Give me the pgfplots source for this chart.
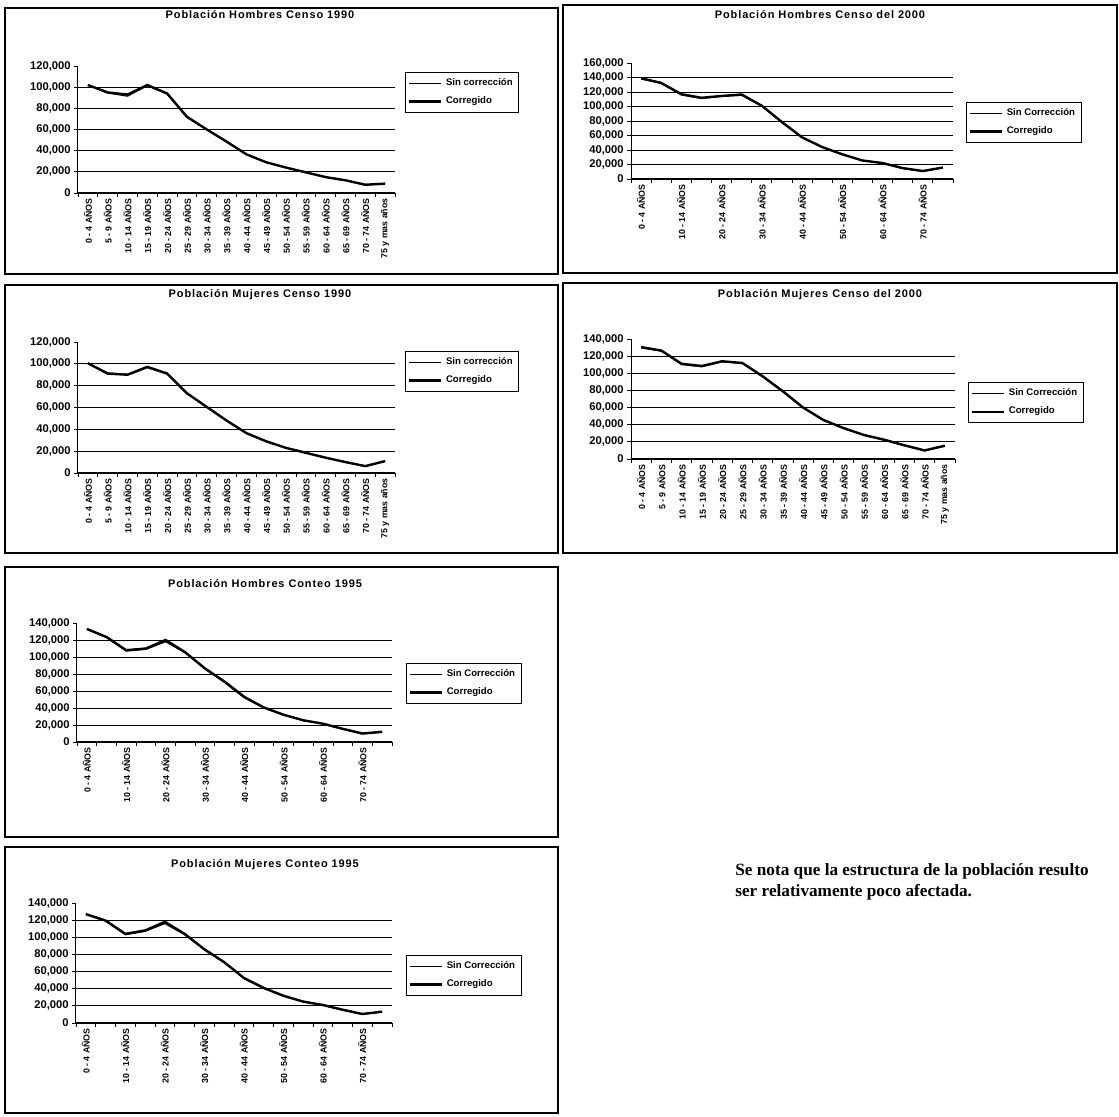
\documentclass[border=0pt]{standalone}
\usepackage{fontspec}
\setmainfont{Liberation Sans}
\newfontfamily\notefont{Liberation Serif}
\newfontfamily\titlefont[LetterSpace=8]{Liberation Sans}
\usepackage{pgfplots}
\usepackage{pgfplotstable}
\pgfplotsset{compat=1.18}

% x = age group index, s = Sin correccion, c = Corregido
\pgfplotstableread{
x s c
0 102000 102000
1 94500 95000
2 91500 93000
3 101500 102000
4 93500 94000
5 71500 72000
6 60000 60000
7 49000 48500
8 36500 36500
9 29000 29000
10 24000 24000
11 19500 19500
12 15000 15000
13 12000 12000
14 7500 7800
15 8700 8800
}\hombresnoventa

\pgfplotstableread{
x s c
0 138000 139000
1 132000 132500
2 116000 117000
3 111000 112000
4 114000 114500
5 115500 116500
6 100500 101000
7 78000 78500
8 57000 57500
9 44000 44000
10 34000 34000
11 25500 25500
12 21500 22000
13 14500 15000
14 10500 11000
15 15500 15800
}\hombresdosmil

\pgfplotstableread{
x s c
0 100800 100500
1 91600 91000
2 90400 90000
3 97700 97000
4 91600 91000
5 72700 73000
6 60500 60500
7 48200 48000
8 36600 36500
9 29000 29000
10 22900 23000
11 18300 18500
12 14000 14000
13 10000 10000
14 6100 6300
15 10700 10900
}\mujeresnoventa

\pgfplotstableread{
x s c
0 129700 130500
1 125800 126500
2 110300 111000
3 107600 108500
4 113400 114000
5 111500 112000
6 95900 96500
7 78400 79000
8 59800 60000
9 45400 45500
10 35700 36000
11 28000 28000
12 22100 22500
13 15500 16000
14 9700 10000
15 15100 15500
}\mujeresdosmil

\pgfplotstableread{
x s c
0 133000 133000
1 122800 123500
2 107000 108000
3 109000 110000
4 118000 120000
5 104800 105500
6 86000 86500
7 70000 71000
8 52000 53000
9 40000 40500
10 32000 32000
11 25200 25500
12 21200 21500
13 15000 15500
14 9500 10000
15 11500 12000
}\hombresconteo

\pgfplotstableread{
x s c
0 126700 127000
1 118800 119500
2 103000 104000
3 107000 108000
4 116000 118000
5 103000 104000
6 85500 86000
7 70600 71000
8 52000 52500
9 40400 41000
10 31400 31800
11 24700 25000
12 20800 21000
13 15000 15500
14 10200 10500
15 12900 13200
}\mujeresconteo

\newcommand\yfont{\fontsize{5.6}{6}\selectfont\bfseries}
\newcommand\xfont{\fontsize{4.4}{5}\selectfont\bfseries}
\newcommand\lfont{\fontsize{4.8}{5.4}\selectfont\bfseries}
\newcommand\tfont{\titlefont\fontsize{5.5}{6}\selectfont\bfseries}

\pgfplotsset{
  panel/.style={
    scale only axis, anchor=south west,
    xmin=-0.5, xmax=15.5, ymin=0,
    axis x line*=bottom, axis y line*=left,
    axis line style={black, line width=0.5pt},
    ymajorgrids, major grid style={black, line width=0.45pt},
    tick align=outside, major tick length=0pt, minor tick length=2pt,
    minor xtick={-0.5,0.5,...,15.5},
    tick style={black, line width=0.4pt},
    scaled y ticks=false,
    /pgf/number format/fixed,
    /pgf/number format/1000 sep={,},
    /pgf/number format/assume math mode=true,
    yticklabel style={font=\yfont, inner sep=3.5pt},
    xticklabel style={rotate=90, anchor=east, font=\xfont, inner sep=2.5pt},
    extra y tick style={grid=none},
    legend style={draw=black, line width=0.5pt, font=\lfont, anchor=north west,
      inner sep=1pt, row sep=0pt, cells={anchor=west}},
    legend image code/.code={\draw[##1] (0pt,0pt) -- (16pt,0pt);},
  },
  allcats/.style={xtick={0,...,15},
    xticklabels={0 - 4 AÑOS, 5 - 9 AÑOS, 10 - 14 AÑOS, 15 - 19 AÑOS, 20 - 24 AÑOS,
      25 - 29 AÑOS, 30 - 34 AÑOS, 35 - 39 AÑOS, 40 - 44 AÑOS, 45 - 49 AÑOS,
      50 - 54 AÑOS, 55 - 59 AÑOS, 60 - 64 AÑOS, 65 - 69 AÑOS, 70 - 74 AÑOS,
      75 y mas años}},
  halfcats/.style={xtick={0,2,...,14},
    xticklabels={0 - 4 AÑOS, 10 - 14 AÑOS, 20 - 24 AÑOS, 30 - 34 AÑOS,
      40 - 44 AÑOS, 50 - 54 AÑOS, 60 - 64 AÑOS, 70 - 74 AÑOS}},
  to120/.style={ymax=120000, ytick={0,20000,...,100000}, extra y ticks={120000},
    minor ytick={0,20000,...,120000}},
  to140/.style={ymax=140000, ytick={0,20000,...,120000}, extra y ticks={140000},
    minor ytick={0,20000,...,140000}},
  to160/.style={ymax=160000, ytick={0,20000,...,140000}, extra y ticks={160000},
    minor ytick={0,20000,...,160000}},
  sin/.style={black, line width=0.6pt},
  cor/.style={black, line width=1.2pt},
}

\begin{document}
\begin{tikzpicture}
\useasboundingbox (0pt,0pt) rectangle (559.5pt,558.5pt);

% panel frames
\draw[line width=0.6pt] (2.5pt,554.5pt) rectangle (279pt,421.5pt);
\draw[line width=0.6pt] (281.5pt,556pt) rectangle (558.5pt,422pt);
\draw[line width=0.6pt] (2.5pt,416pt) rectangle (279pt,282pt);
\draw[line width=0.6pt] (281.5pt,417pt) rectangle (558.5pt,282pt);
\draw[line width=0.6pt] (2.5pt,275pt) rectangle (279pt,140pt);
\draw[line width=0.6pt] (2.5pt,135pt) rectangle (279pt,2pt);

% Hombres Censo 1990
\begin{axis}[panel, allcats, to120, at={(39pt,462pt)}, width=158.5pt, height=63.5pt,
  legend style={at={(1.032,0.953)}}, legend entries={Sin corrección, Corregido}]
\addplot[sin] table[x=x, y=s] {\hombresnoventa};
\addplot[cor] table[x=x, y=c] {\hombresnoventa};
\end{axis}
\node[font=\tfont] at (130pt,551pt) {Población Hombres Censo 1990};

% Hombres Censo 2000
\begin{axis}[panel, halfcats, to160, at={(315.5pt,469pt)}, width=161pt, height=58pt,
  legend style={at={(1.04,0.664)}}, legend entries={Sin Corrección, Corregido}]
\addplot[sin] table[x=x, y=s] {\hombresdosmil};
\addplot[cor] table[x=x, y=c] {\hombresdosmil};
\end{axis}
\node[font=\tfont] at (410pt,551pt) {Población Hombres Censo del 2000};

% Mujeres Censo 1990
\begin{axis}[panel, allcats, to120, at={(39pt,322pt)}, width=158.5pt, height=65.5pt,
  legend style={at={(1.032,0.93)}}, legend entries={Sin corrección, Corregido}]
\addplot[sin] table[x=x, y=s] {\mujeresnoventa};
\addplot[cor] table[x=x, y=c] {\mujeresnoventa};
\end{axis}
\node[font=\tfont] at (130pt,411pt) {Población Mujeres Censo 1990};

% Mujeres Censo 2000
\begin{axis}[panel, allcats, to140, at={(315.5pt,329pt)}, width=162pt, height=60pt,
  legend style={at={(1.04,0.64)}}, legend entries={Sin Corrección, Corregido}]
\addplot[sin] table[x=x, y=s] {\mujeresdosmil};
\addplot[cor] table[x=x, y=c] {\mujeresdosmil};
\end{axis}
\node[font=\tfont] at (410pt,411pt) {Población Mujeres Censo del 2000};

% Hombres Conteo 1995
\begin{axis}[panel, halfcats, to140, at={(38.5pt,187.5pt)}, width=157.5pt, height=59.5pt,
  legend style={at={(1.044,0.664)}}, legend entries={Sin Corrección, Corregido}]
\addplot[sin] table[x=x, y=s] {\hombresconteo};
\addplot[cor] table[x=x, y=c] {\hombresconteo};
\end{axis}
\node[font=\tfont] at (132.5pt,266.5pt) {Población Hombres Conteo 1995};

% Mujeres Conteo 1995
\begin{axis}[panel, halfcats, to140, at={(38pt,47pt)}, width=158pt, height=60pt,
  legend style={at={(1.044,0.567)}}, legend entries={Sin Corrección, Corregido}]
\addplot[sin] table[x=x, y=s] {\mujeresconteo};
\addplot[cor] table[x=x, y=c] {\mujeresconteo};
\end{axis}
\node[font=\tfont] at (132.5pt,126pt) {Población Mujeres Conteo 1995};

\node[anchor=north west, inner sep=0pt, align=left,
  font={\notefont\bfseries\fontsize{8.6}{10.5}\selectfont}]
  at (367.5pt,127pt) {Se nota que la estructura de la población resulto\\ser relativamente poco afectada.};
\end{tikzpicture}
\end{document}
